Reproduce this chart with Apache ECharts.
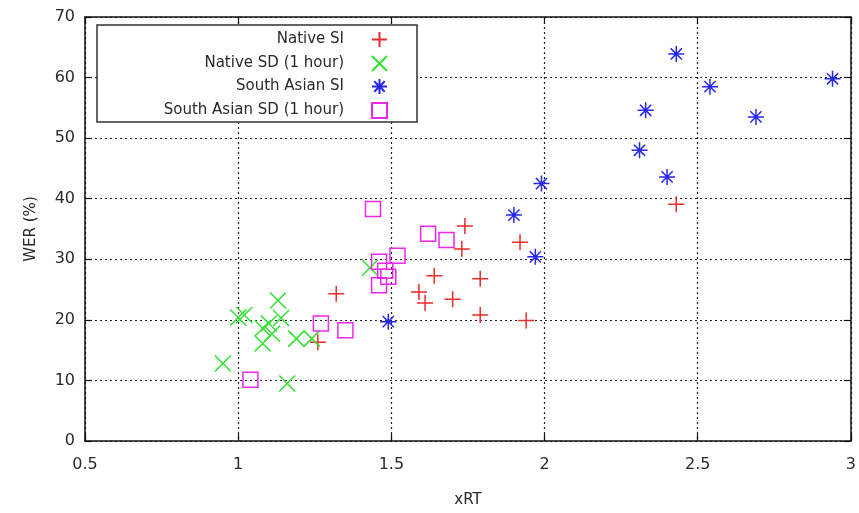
<!DOCTYPE html>
<html>
<head>
<meta charset="utf-8">
<script src="https://cdn.jsdelivr.net/npm/echarts@6/dist/echarts.min.js"></script>
<style>html,body{margin:0;padding:0;background:#fff}#c{width:859px;height:513px}</style>
</head>
<body>
<div id="c"></div>
<script>
// Data: [xRT, WER %]
var nativeSI = [[1.74,35.5],[1.73,31.7],[1.92,32.8],[1.32,24.3],[1.64,27.3],[1.79,26.8],[1.59,24.6],[1.61,22.8],[1.70,23.4],[1.79,20.8],[1.94,19.9],[1.26,16.3],[2.43,39.1]];
var nativeSD = [[1.43,28.6],[1.00,20.4],[1.02,20.8],[1.13,23.2],[1.14,20.3],[1.10,19.4],[1.08,18.6],[1.11,17.7],[1.08,16.1],[1.19,16.9],[1.24,16.9],[0.95,12.8],[1.16,9.5]];
var southAsianSI = [[2.43,63.9],[2.54,58.5],[2.94,59.8],[2.33,54.6],[2.69,53.5],[2.31,48.0],[2.40,43.6],[1.99,42.5],[1.90,37.3],[1.97,30.4],[1.49,19.7]];
var southAsianSD = [[1.44,38.3],[1.62,34.2],[1.68,33.2],[1.52,30.6],[1.46,29.6],[1.48,28.1],[1.49,27.1],[1.46,25.7],[1.27,19.4],[1.35,18.3],[1.04,10.1]];
var seriesNames = ['Native SI','Native SD (1 hour)','South Asian SI','South Asian SD (1 hour)'];
var seriesColors = ['#ee2a2a','#33e033','#2626ee','#ee26ee'];
var xMin = 0.5, xMax = 3, xStep = 0.5;
var yMin = 0, yMax = 70, yStep = 10;

var symPlus = 'path://M0,5L10,5M5,0L5,10';
var symCross = 'path://M0,0L10,10M10,0L0,10';
var symStar = 'path://M0,5L10,5M5,0L5,10M1.5,1.5L8.5,8.5M8.5,1.5L1.5,8.5';
var symSquare = 'path://M0,0L10,0L10,10L0,10Z';
var symbols = [symPlus, symCross, symStar, symSquare];
var datasets = [nativeSI, nativeSD, southAsianSI, southAsianSD];
var sizes = [16, 16, 16, 15];

var FONT = 'DejaVu Sans';
var TXT = '#2a2a2a';
var chart = echarts.init(document.getElementById('c'), null, {renderer:'canvas'});

var series = datasets.map(function(d, i){
  return {
    name: seriesNames[i], type: 'scatter', data: d,
    symbol: symbols[i], symbolSize: sizes[i],
    itemStyle: {color: 'rgba(0,0,0,0)', borderColor: seriesColors[i], borderWidth: 1.5, opacity: 1},
    emphasis: {disabled: true},
    z: 3
  };
});

var rowsY = [31, 55, 78, 102];
var legends = seriesNames.map(function(n, i){
  return {
    data: [n], right: 471, top: rowsY[i], orient: 'vertical', align: 'right',
    itemWidth: 15, itemHeight: 15, padding: 0, z: 6,
    textStyle: {fontFamily: FONT, fontSize: 15, color: TXT, padding: [0, 23, 0, 0]},
    selectedMode: false
  };
});

var axisLineStyle = {color: '#111', width: 1.5};
chart.setOption({
  animation: false,
  backgroundColor: '#fff',
  grid: {left: 85, right: 7, top: 17, bottom: 70, show: false},
  legend: legends,
  xAxis: [{
    type: 'value', min: xMin, max: xMax, interval: xStep, position: 'bottom',
    name: 'xRT', nameLocation: 'middle', nameGap: 52,
    nameTextStyle: {fontFamily: FONT, fontSize: 15, color: TXT},
    axisLine: {show: true, onZero: false, lineStyle: axisLineStyle},
    axisTick: {show: true, inside: true, length: 7, lineStyle: {color: '#111', width: 1.2}},
    axisLabel: {fontFamily: FONT, fontSize: 16, color: TXT, margin: 16},
    splitLine: {show: true, lineStyle: {color: '#222', type: [2, 3], width: 1.2}}
  }, {
    type: 'value', min: xMin, max: xMax, interval: xStep, position: 'top',
    axisLine: {show: true, onZero: false, lineStyle: axisLineStyle},
    axisTick: {show: true, inside: true, length: 7, lineStyle: {color: '#111', width: 1.2}},
    axisLabel: {show: false}, splitLine: {show: false}
  }],
  yAxis: [{
    type: 'value', min: yMin, max: yMax, interval: yStep, position: 'left',
    name: 'WER (%)', nameLocation: 'middle', nameGap: 46, nameRotate: 90,
    nameTextStyle: {fontFamily: FONT, fontSize: 15, color: TXT},
    axisLine: {show: true, onZero: false, lineStyle: axisLineStyle},
    axisTick: {show: true, inside: true, length: 7, lineStyle: {color: '#111', width: 1.2}},
    axisLabel: {fontFamily: FONT, fontSize: 16, color: TXT, margin: 10},
    splitLine: {show: true, lineStyle: {color: '#222', type: [2, 3], width: 1.2}}
  }, {
    type: 'value', min: yMin, max: yMax, interval: yStep, position: 'right',
    axisLine: {show: true, onZero: false, lineStyle: axisLineStyle},
    axisTick: {show: true, inside: true, length: 7, lineStyle: {color: '#111', width: 1.2}},
    axisLabel: {show: false}, splitLine: {show: false}
  }],
  graphic: [{
    type: 'rect', shape: {x: 97, y: 25, width: 320, height: 97},
    style: {fill: '#fff', stroke: '#333', lineWidth: 1.5}, z: 2
  }],
  series: series
});
</script>
</body>
</html>
